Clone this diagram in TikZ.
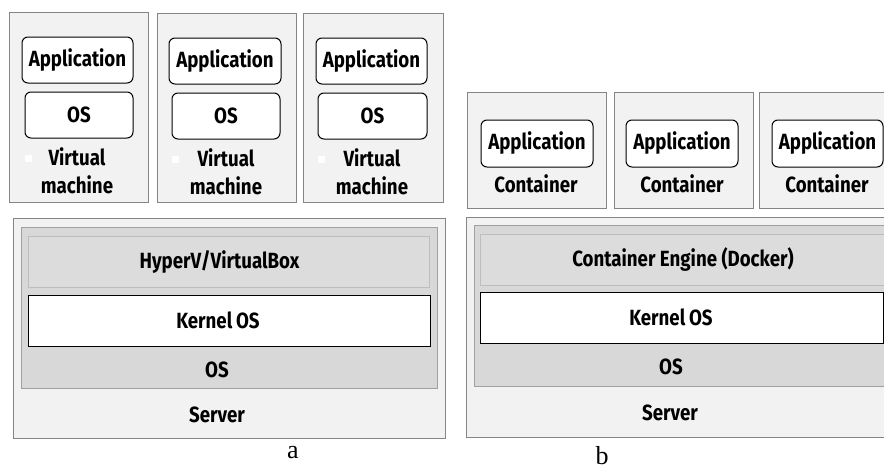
\documentclass[tikz,border=0pt]{standalone}
\usepackage{fontspec}
\setmainfont{Fira Sans}[FakeStretch=0.85]
\newfontfamily\capfont{Liberation Serif}
\usetikzlibrary{positioning}
\definecolor{boxfill}{HTML}{F2F2F2}
\definecolor{boxline}{HTML}{858585}
\definecolor{layerfill}{HTML}{D8D8D8}
\definecolor{layerline}{HTML}{A0A0A0}
\definecolor{hostfill}{HTML}{DCDCDC}
\definecolor{hostline}{HTML}{BDBDBD}

\begin{document}
\begin{tikzpicture}[
    x=1pt, y=-1pt,
    vmbox/.style={rectangle, draw=boxline, fill=boxfill, line width=1pt, inner sep=0pt},
    appbox/.style={rectangle, draw=black, fill=white, rounded corners=6pt, line width=1pt,
        inner sep=0pt, font=\bfseries\fontsize{22}{24}\selectfont},
    oslayer/.style={rectangle, draw=layerline, fill=layerfill, line width=1pt, inner sep=0pt},
    hostbox/.style={rectangle, draw=hostline, fill=hostfill, line width=1pt, inner sep=0pt},
    kernelbox/.style={rectangle, draw=black, fill=white, line width=1pt, inner sep=0pt},
    dot/.style={rectangle, fill=white!96!boxfill, minimum size=7pt, inner sep=0pt},
    lbl/.style={font=\bfseries\fontsize{22}{28}\selectfont, align=center, inner sep=0pt},
    caption/.style={font=\capfont\fontsize{26}{28}\selectfont, inner sep=0pt}
]
\useasboundingbox (0,0) rectangle (884,469);

% Virtual machines
\node[vmbox, minimum width=139pt, minimum height=190pt] (vm1) at (78.5,107) {};
\node[vmbox, minimum width=139pt, minimum height=189pt] (vm2) at (226.5,107.5) {};
\node[vmbox, minimum width=140pt, minimum height=189pt] (vm3) at (373,107.5) {};

\node[appbox, minimum width=111pt, minimum height=46pt] (app1) at (77.5,60) {Application};
\node[appbox, minimum width=108pt, minimum height=46pt] (guest1) at (79,115) {OS};
\node[appbox, minimum width=112pt, minimum height=46pt] (app2) at (225,61) {Application};
\node[appbox, minimum width=108pt, minimum height=46pt] (guest2) at (226,116) {OS};
\node[appbox, minimum width=111pt, minimum height=46pt] (app3) at (371.5,61) {Application};
\node[appbox, minimum width=109pt, minimum height=46pt] (guest3) at (372.5,116) {OS};

\node[dot] (dot1) at (28.5,158) {};
\node[dot] (dot2) at (175,159) {};
\node[dot] (dot3) at (321,159) {};
\node[lbl] (vmlbl1) at (77,171) {Virtual\\machine};
\node[lbl] (vmlbl2) at (226,172) {Virtual\\machine};
\node[lbl] (vmlbl3) at (372,172) {Virtual\\machine};

% Containers
\node[vmbox, minimum width=139pt, minimum height=116pt] (ct1) at (536.5,150) {};
\node[vmbox, minimum width=139pt, minimum height=116pt] (ct2) at (683.5,150) {};
\node[vmbox, minimum width=139pt, minimum height=116pt] (ct3) at (828.5,150) {};

\node[appbox, minimum width=112pt, minimum height=47pt] (capp1) at (537,143.5) {Application};
\node[appbox, minimum width=112pt, minimum height=47pt] (capp2) at (682,143.5) {Application};
\node[appbox, minimum width=111pt, minimum height=47pt] (capp3) at (827.5,143.5) {Application};

\node[lbl] (ctlbl1) at (536,184) {Container};
\node[lbl] (ctlbl2) at (682,184) {Container};
\node[lbl] (ctlbl3) at (827,184) {Container};

% Server a
\node[vmbox, minimum width=432pt, minimum height=220pt] (srva) at (229,328) {};
\node[oslayer, minimum width=416pt, minimum height=161pt] (hosta) at (229,307.5) {};
\node[hostbox, minimum width=401pt, minimum height=51pt] (hyper) at (228.5,261.5) {};
\node[kernelbox, minimum width=402pt, minimum height=51pt] (kerna) at (229,320.5) {};
\node[lbl] (hyperlbl) at ([xshift=-9pt]hyper.center) {HyperV/VirtualBox};
\node[lbl] (kernalbl) at ([xshift=-11pt]kerna.center) {Kernel\,OS};
\node[lbl] (hostalbl) at (217,370) {OS};
\node[lbl] (srvalbl) at (217,415) {Server};

% Server b
\node[vmbox, minimum width=432pt, minimum height=220pt] (srvb) at (682,327) {};
\node[oslayer, minimum width=416pt, minimum height=161pt] (hostb) at (682,305.5) {};
\node[hostbox, minimum width=404pt, minimum height=51pt] (engine) at (682,259.5) {};
\node[kernelbox, minimum width=403pt, minimum height=51pt] (kernb) at (681.5,317.5) {};
\node[lbl] (enginelbl) at (683,259.5) {Container Engine (Docker)};
\node[lbl] (kernblbl) at (671,317.5) {Kernel\,OS};
\node[lbl] (hostblbl) at (671,367) {OS};
\node[lbl] (srvblbl) at (670,413) {Server};

% Captions
\node[caption] (capa) at (293,453) {a};
\node[caption] (capb) at (602,456) {b};

\end{tikzpicture}
\end{document}
